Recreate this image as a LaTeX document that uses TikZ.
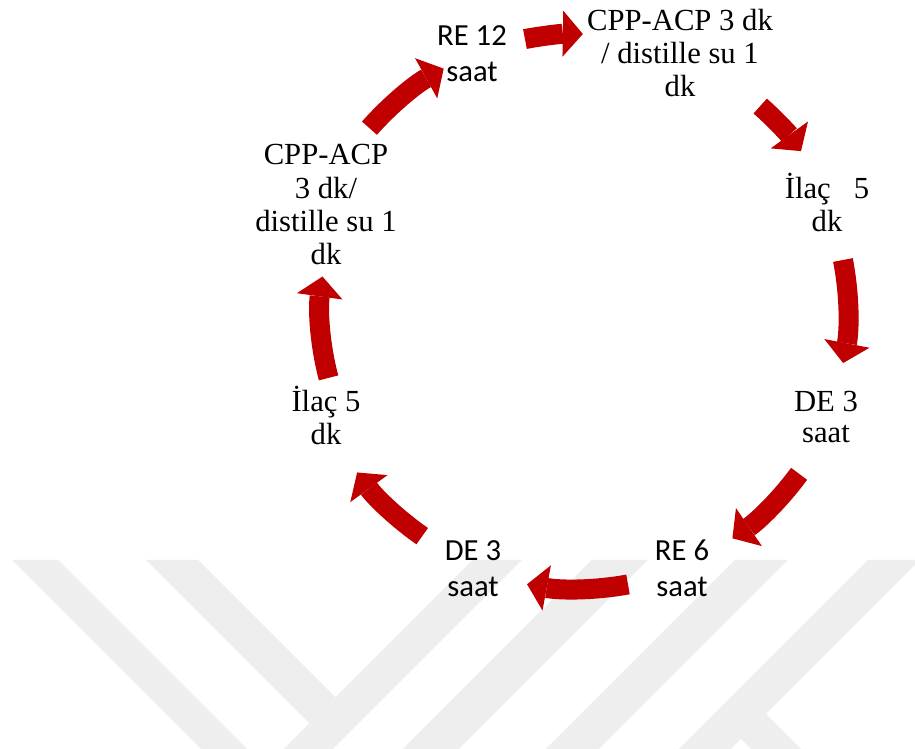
\documentclass[tikz,border=0pt]{standalone}
\usepackage{fontspec}
\setmainfont{Liberation Serif}
\newfontfamily\calibrifont{Carlito}
\usetikzlibrary{arrows.meta,calc}
\definecolor{arrred}{HTML}{C00000}
\definecolor{wm}{HTML}{EEEEEE}
\begin{document}
\begin{tikzpicture}[x=0.75pt,y=0.75pt,
  cyc/.style={line width=15pt, draw=arrred,
    -{Triangle[length=15pt,width=34.5pt,line width=0pt]}},
  sanslbl/.style={anchor=base, align=center, inner sep=0pt,
    font=\calibrifont\fontsize{23}{27}\selectfont},
  seriflbl/.style={anchor=base, align=center, inner sep=0pt,
    font=\fontsize{23}{25}\selectfont},
  wmark/.style={fill=wm, draw=none}]
\useasboundingbox (0,0) rectangle (915,749);
\fill[white] (0,0) rectangle (915,749);
% watermark
\begin{scope}
\clip (0,0) rectangle (915,749);
\fill[wmark] (12,189) -- (58,189) -- (247,0) -- (201,0) -- cycle;
\fill[wmark] (146,189) -- (198,189) -- (335.5,51.5) -- (309.5,25.5) -- cycle;
\fill[wmark] (473,189) -- (522,189) -- (333,0) -- (284,0) -- cycle;
\fill[wmark] (592,189) -- (648,189) -- (459,0) -- (403,0) -- cycle;
\fill[wmark] (735,189) -- (788,189) -- (599,0) -- (546,0) -- cycle;
\fill[wmark] (868,189) -- (920,189) -- (731,0) -- (679,0) -- cycle;
\fill[wmark] (766,35) -- (741,10) -- (751,0) -- (801,0) -- cycle;
\end{scope}
% labels (base anchor = baseline of last line)
\node[sanslbl]  (re12)  at (472,667) {RE 12\\saat};
\node[seriflbl] (cppT)  at (680,652) {CPP-ACP 3 dk\\/ distille su 1\\dk};
\node[seriflbl] (ilacR) at (827,517) {İlaç\ \ \ 5\\dk};
\node[seriflbl, font=\fontsize{23}{23.5}\selectfont] (deR) at (826,306) {DE 3\\saat};
\node[sanslbl]  (re6)   at (682,152) {RE 6\\saat};
\node[sanslbl]  (deL)   at (473,152) {DE 3\\saat};
\node[seriflbl] (ilacL) at (326,304) {İlaç 5\\dk};
\node[seriflbl] (cppL)  at (326,484) {CPP-ACP\\3 dk/\\distille su 1\\dk};
% arrows
\coordinate (c) at (578,437);
\coordinate (a1) at ($(c)+(101:278)$);
\coordinate (a2) at ($(c)+(48.5:275)$);
\coordinate (a3) at ($(c)+(11.1:270)$);
\coordinate (a4) at ($(c)+(-36.2:274)$);
\coordinate (a5) at ($(c)+(-79.6:277)$);
\coordinate (a6) at ($(c)+(235.2:273)$);
\coordinate (a7) at ($(c)+(194.8:258)$);
\coordinate (a8) at ($(c)+(138.6:278)$);
\draw[cyc] (a1) arc[start angle=101, end angle=89, radius=278];
\draw[cyc] (a2) arc[start angle=48.5, end angle=35.8, radius=275];
\draw[cyc] (a3) arc[start angle=11.1, end angle=-10.9, radius=270];
\draw[cyc] (a4) arc[start angle=-36.2, end angle=-55.7, radius=274];
\draw[cyc] (a5) arc[start angle=-79.6, end angle=-100.6, radius=277];
\draw[cyc] (a6) arc[start angle=235.2, end angle=216.0, radius=273];
\draw[cyc] (a7) arc[start angle=194.8, end angle=172.1, radius=258];
\draw[cyc] (a8) arc[start angle=138.6, end angle=118.9, radius=278];
\end{tikzpicture}
\end{document}
